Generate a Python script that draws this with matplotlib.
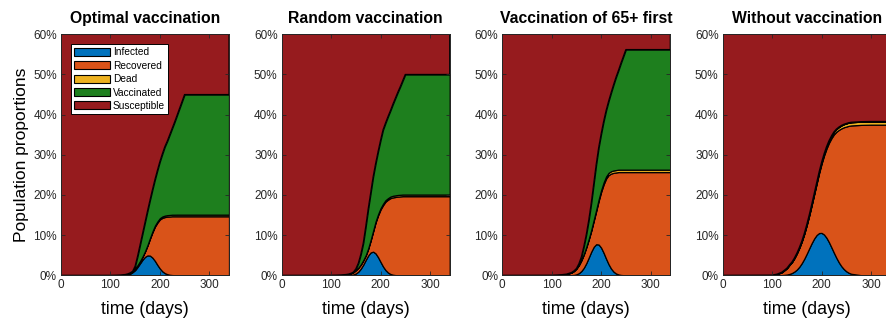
import matplotlib
matplotlib.use("Agg")
import matplotlib.pyplot as plt
from matplotlib.patches import Patch
import numpy as np

plt.rcParams['font.family'] = ['Liberation Sans', 'DejaVu Sans']

# ---- data (percent of population) ----
days = [0, 100, 110, 120, 130, 135, 140, 145, 150, 155, 160, 165, 170, 175, 180,
        185, 190, 195, 200, 205, 210, 215, 220, 225, 230, 235, 240, 245, 250,
        255, 260, 280, 300, 320, 340]

titles = ["Optimal vaccination", "Random vaccination",
          "Vaccination of 65+ first", "Without vaccination"]
labels = ["Infected", "Recovered", "Dead", "Vaccinated", "Susceptible"]

# Optimal vaccination
opt_infected = [0, 0, 0.01, 0.03, 0.1, 0.2, 0.4, 0.8, 1.3, 2.1, 3.0, 3.9, 4.6, 4.95, 4.9,
                4.4, 3.6, 2.6, 1.7, 1.0, 0.55, 0.28, 0.13, 0.06, 0.02, 0, 0, 0, 0,
                0, 0, 0, 0, 0, 0]
opt_recovered = [0, 0, 0.02, 0.05, 0.1, 0.15, 0.2, 0.2, 0.4, 0.4, 0.5, 0.7, 1.3, 2.45, 4.2,
                 6.3, 8.5, 10.5, 12.2, 13.3, 13.95, 14.32, 14.52, 14.64, 14.68, 14.7, 14.7, 14.7, 14.7,
                 14.7, 14.7, 14.7, 14.7, 14.7, 14.7]
opt_dead = [0, 0, 0, 0, 0, 0.01, 0.01, 0.02, 0.03, 0.04, 0.06, 0.08, 0.1, 0.13, 0.17,
            0.21, 0.25, 0.29, 0.32, 0.34, 0.36, 0.37, 0.38, 0.39, 0.39, 0.4, 0.4, 0.4, 0.4,
            0.4, 0.4, 0.4, 0.4, 0.4, 0.4]
opt_vaccinated = [0, 0, 0, 0, 0, 0, 0, 0, 0.57, 2.26, 4.04, 5.72, 7.2, 8.47, 9.43,
                  10.39, 11.45, 12.71, 14.08, 15.56, 17.14, 18.43, 19.97, 21.51, 23.11, 24.8, 26.5, 28.2, 29.9,
                  29.9, 29.9, 29.9, 29.9, 29.9, 29.9]

# Random vaccination
rnd_infected = [0, 0, 0, 0, 0.01, 0.03, 0.08, 0.2, 0.45, 0.91, 1.64, 2.64, 3.82, 4.93, 5.69,
                5.89, 5.45, 4.51, 3.34, 2.21, 1.31, 0.7, 0.33, 0.14, 0.05, 0.02, 0, 0, 0,
                0, 0, 0, 0, 0, 0]
rnd_recovered = [0, 0.02, 0.05, 0.1, 0.19, 0.26, 0.41, 0.58, 0.82, 0.95, 1.01, 1.06, 1.09, 1.65, 2.95,
                 5.01, 7.7, 10.4, 13.04, 15.24, 17.02, 18.12, 18.88, 19.26, 19.45, 19.58, 19.65, 19.7, 19.7,
                 19.7, 19.7, 19.7, 19.7, 19.7, 19.7]
rnd_dead = [0, 0, 0, 0, 0, 0.01, 0.01, 0.02, 0.03, 0.04, 0.05, 0.07, 0.09, 0.12, 0.16,
            0.2, 0.25, 0.29, 0.32, 0.35, 0.37, 0.38, 0.39, 0.4, 0.4, 0.4, 0.4, 0.4, 0.4,
            0.4, 0.4, 0.4, 0.4, 0.4, 0.4]
rnd_vaccinated = [0, 0, 0, 0, 0, 0, 0, 0, 0.3, 1.1, 2.5, 4.23, 7.1, 9.8, 11.7,
                  13.4, 14.4, 15.6, 16.9, 18.4, 19.2, 20.3, 21.4, 22.8, 24.2, 25.6, 26.95, 28.4, 29.9,
                  29.9, 29.9, 29.9, 29.9, 29.9, 29.9]

# Vaccination of 65+ first
old_infected = [0, 0, 0, 0, 0, 0.01, 0.04, 0.1, 0.25, 0.54, 1.06, 1.88, 3.03, 4.44, 5.89,
                7.09, 7.74, 7.66, 6.88, 5.61, 4.14, 2.78, 1.69, 0.93, 0.46, 0.21, 0.09, 0.03, 0.01,
                0, 0, 0, 0, 0, 0]
old_recovered = [0, 0.03, 0.08, 0.16, 0.3, 0.48, 0.65, 0.98, 1.42, 2.01, 2.67, 3.32, 3.94, 4.49, 5.19,
                 6.44, 8.23, 10.85, 13.88, 17.0, 19.93, 22.16, 23.63, 24.58, 25.14, 25.49, 25.61, 25.67, 25.69,
                 25.7, 25.7, 25.7, 25.7, 25.7, 25.7]
old_dead = [0, 0, 0, 0, 0, 0.01, 0.01, 0.02, 0.03, 0.05, 0.07, 0.1, 0.13, 0.17, 0.22,
            0.27, 0.33, 0.39, 0.44, 0.49, 0.53, 0.56, 0.58, 0.59, 0.6, 0.6, 0.6, 0.6, 0.6,
            0.6, 0.6, 0.6, 0.6, 0.6, 0.6]
old_vaccinated = [0, 0, 0, 0, 0, 0, 0, 0, 0, 0.3, 0.8, 1.9, 3.1, 4.7, 6.7,
                  9.0, 11.3, 12.9, 14.0, 15.2, 16.4, 17.8, 19.5, 21.3, 23.1, 24.7, 26.5, 28.2, 29.9,
                  29.9, 29.9, 29.9, 29.9, 29.9, 29.9]

# Without vaccination
nov_infected = [0, 0, 0.01, 0.05, 0.19, 0.34, 0.57, 0.93, 1.43, 2.13, 3.03, 4.12, 5.37, 6.7, 8.0,
                9.15, 10.03, 10.52, 10.56, 10.16, 9.35, 8.25, 6.96, 5.63, 4.36, 3.23, 2.29, 1.56, 1.01,
                0.63, 0.38, 0.03, 0, 0, 0]
nov_recovered = [0, 0.05, 0.29, 0.74, 1.59, 2.23, 2.69, 3.32, 4.01, 4.7, 5.39, 6.18, 7.11, 8.16, 9.43,
                 10.95, 12.73, 14.89, 17.2, 19.64, 22.19, 24.73, 27.17, 29.45, 31.38, 32.97, 34.28, 35.29, 36.02,
                 36.59, 36.93, 37.42, 37.5, 37.5, 37.5]
nov_dead = [0, 0, 0, 0.01, 0.02, 0.03, 0.04, 0.05, 0.06, 0.07, 0.08, 0.1, 0.12, 0.14, 0.17,
            0.2, 0.24, 0.29, 0.34, 0.4, 0.46, 0.52, 0.57, 0.62, 0.66, 0.7, 0.73, 0.75, 0.77,
            0.78, 0.79, 0.8, 0.8, 0.8, 0.8]
nov_vaccinated = [0] * len(days)

scenarios = [
    (opt_infected, opt_recovered, opt_dead, opt_vaccinated),
    (rnd_infected, rnd_recovered, rnd_dead, rnd_vaccinated),
    (old_infected, old_recovered, old_dead, old_vaccinated),
    (nov_infected, nov_recovered, nov_dead, nov_vaccinated),
]
for sc in scenarios:
    for s in sc:
        assert len(s) == len(days), len(s)

colors = ["#0072BD", "#D95319", "#EDB120", "#1E7F1E", "#961B1E"]

W, H = 887, 326
fig = plt.figure(figsize=(W / 100, H / 100), dpi=100)

lefts_px = [61, 281.7, 502.3, 722.7]
ax_w_px = 168
ax_top_px, ax_bot_px = 34.3, 275.3

x = np.array(days, dtype=float)
for i, (inf, rec, dead, vac) in enumerate(scenarios):
    ax = fig.add_axes([lefts_px[i] / W, (H - ax_bot_px) / H,
                       ax_w_px / W, (ax_bot_px - ax_top_px) / H])
    inf, rec, dead, vac = (np.array(a, dtype=float) for a in (inf, rec, dead, vac))
    sus = 100 - (inf + rec + dead + vac)
    ax.stackplot(x, inf, rec, dead, vac, sus, colors=colors,
                 edgecolor="black", linewidth=0.9)
    ax.set_xlim(0, 340)
    ax.set_ylim(0, 60)
    ax.set_xticks([0, 100, 200, 300])
    ax.set_yticks(range(0, 61, 10))
    ax.set_yticklabels([f"{v}%" for v in range(0, 61, 10)])
    ax.tick_params(direction="in", length=3, width=0.6, labelsize=8.5,
                   top=True, right=True, colors="#262626", pad=3)
    for s in ax.spines.values():
        s.set_linewidth(0.7)
        s.set_color("#262626")
    ax.set_title(titles[i], fontsize=11.3, fontweight="bold", pad=8)
    ax.set_xlabel("time (days)", fontsize=12.8, labelpad=7)
    if i == 0:
        ax.set_ylabel("Population proportions", fontsize=12.5, labelpad=3)
        handles = [Patch(facecolor=c, edgecolor="black", linewidth=0.8) for c in colors]
        leg = ax.legend(handles, labels, loc="upper left",
                        bbox_to_anchor=(0.058, 0.958), borderaxespad=0,
                        fontsize=7.3, handlelength=3.6, handleheight=0.8,
                        handletextpad=0.25, labelspacing=0.33, borderpad=0.3,
                        fancybox=False, framealpha=1, edgecolor="black")
        leg.get_frame().set_linewidth(0.7)

fig.savefig("out.png", dpi=100)
